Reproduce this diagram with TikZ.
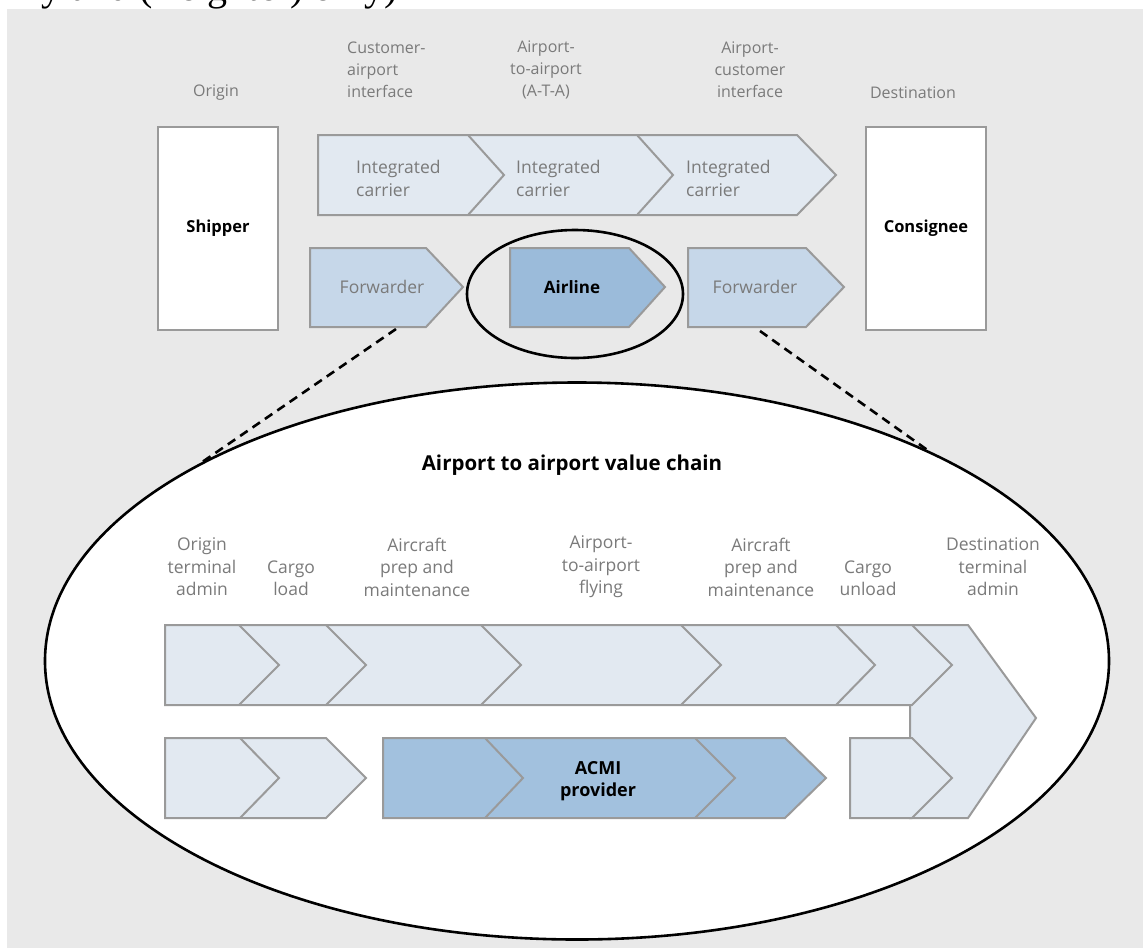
\documentclass[tikz,border=0pt]{standalone}
\usepackage{fontspec}
\setmainfont{Open Sans}
\newfontfamily\serfont{Liberation Serif}
\usetikzlibrary{shapes.geometric}
\definecolor{bg}{HTML}{E9E9E9}
\definecolor{lightchev}{HTML}{E2E9F1}
\definecolor{fwdblue}{HTML}{C6D7E9}
\definecolor{airblue}{HTML}{9BBBDA}
\definecolor{acmiblue}{HTML}{A2C1DE}
\definecolor{edgegrey}{HTML}{9A9A9A}
\definecolor{lblgrey}{HTML}{7A7A7A}
\begin{document}
\begin{tikzpicture}[x=1pt,y=-1pt,
  chev/.style={draw=edgegrey, line width=2pt, line join=miter, fill=lightchev},
  fwdchev/.style={chev, fill=fwdblue},
  airchev/.style={chev, fill=airblue},
  acmichev/.style={chev, fill=acmiblue},
  divline/.style={draw=edgegrey, line width=2pt, line join=miter},
  endbox/.style={draw=edgegrey, line width=2pt, fill=white, minimum width=120pt, minimum height=203pt, inner sep=0pt, font=\fontsize{16.5}{20}\selectfont\bfseries},
  lbl/.style={text=lblgrey, font=\fontsize{16}{22}\selectfont, align=center, inner sep=0pt},
  biglbl/.style={lbl, font=\fontsize{17.5}{22.5}\selectfont},
  lbll/.style={lbl, align=left, anchor=west},
  boldlbl/.style={text=black, font=\fontsize{17}{22}\selectfont\bfseries, align=center, inner sep=0pt},
  dashlink/.style={draw=black, line width=2.6pt, dash pattern=on 9pt off 6pt},
  ringline/.style={draw=black, line width=2.6pt}
]
\useasboundingbox (0,0) rectangle (1143,948);

% cut-off line of text at the top edge (only its lowest part shows)
\begin{scope}
\clip (0,0) rectangle (1143,9);
\node[anchor=base west, inner sep=0pt, font=\serfont\fontsize{40}{40}\selectfont] (cuttext) at (30,0) {ly and (freighter) only)};
\end{scope}

\fill[bg] (7,9) rectangle (1143,948);

% big ellipse (zoom)
\node[draw=black, line width=2.6pt, fill=white, ellipse, minimum width=1064pt, minimum height=557pt, inner sep=0pt] (big) at (577,661) {};

% dashed links
\coordinate (d1) at (396,329);
\coordinate (d2) at (760,331);
\draw[dashlink] (d1) -- (big.152);
\draw[dashlink] (d2) -- (big.31);

% shipper / consignee
\node[endbox] (ship) at (218,228.5) {Shipper};
\node[endbox] (cons) at (926,228.5) {Consignee};

% integrated carrier row
\draw[chev] (318,135) -- (797,135) -- (836,175) -- (797,215) -- (318,215) -- cycle;
\draw[divline] (468,135) -- (504,175) -- (468,215);
\draw[divline] (637,135) -- (673,175) -- (637,215);

% forwarder / airline row
\draw[fwdchev] (310,248) -- (426,248) -- (463,287) -- (426,327) -- (310,327) -- cycle;
\draw[airchev] (510,248) -- (629,248) -- (665,287) -- (629,327) -- (510,327) -- cycle;
\draw[fwdchev] (688,248) -- (806,248) -- (844,287) -- (806,327) -- (688,327) -- cycle;

% small ring round the airline
\node[ringline, ellipse, minimum width=216pt, minimum height=128pt, inner sep=0pt] (ring) at (575,294) {};

% top labels
\node[lbl] (origin) at (216,93) {Origin};
\node[lbll] (cai) at (347,70) {Customer-\\airport\\interface};
\node[lbl] (ata) at (546,70) {Airport-\\to-airport\\(A-T-A)};
\node[lbl] (aci) at (750,70) {Airport-\\customer\\interface};
\node[lbl] (dest) at (913,93) {Destination};

\node[lbll, font=\fontsize{17.5}{23}\selectfont] (ic1) at (356,178) {Integrated\\carrier};
\node[lbll, font=\fontsize{17.5}{23}\selectfont] (ic2) at (516,178) {Integrated\\carrier};
\node[lbll, font=\fontsize{17.5}{23}\selectfont] (ic3) at (686,178) {Integrated\\carrier};

\node[biglbl] (fw1) at (382,287) {Forwarder};
\node[boldlbl] (air) at (572,287) {Airline};
\node[biglbl] (fw2) at (755,287) {Forwarder};

% value chain title
\node[text=black, inner sep=0pt, font=\fontsize{20.5}{24}\selectfont\bfseries] (title) at (572,465) {Airport to airport value chain};

% value chain labels
\node[biglbl] (l1) at (202,567) {Origin\\terminal\\admin};
\node[biglbl] (l2) at (291,578) {Cargo\\load};
\node[biglbl] (l3) at (417,567) {Aircraft\\prep and\\maintenance};
\node[biglbl] (l4) at (601,567) {Airport-\\to-airport\\flying};
\node[biglbl] (l5) at (761,567) {Aircraft\\prep and\\maintenance};
\node[biglbl] (l6) at (868,578) {Cargo\\unload};
\node[biglbl] (l7) at (993,567) {Destination\\terminal\\admin};

% big final chevron spanning both rows
\draw[chev] (910,625) -- (968,625) -- (1036,718) -- (968,818) -- (910,818) -- cycle;

% first row of the value chain
\draw[chev] (165,625) -- (912,625) -- (952,665) -- (912,705) -- (165,705) -- cycle;
\draw[divline] (239,625) -- (279,665) -- (239,705);
\draw[divline] (326,625) -- (366,665) -- (326,705);
\draw[divline] (481,625) -- (521,665) -- (481,705);
\draw[divline] (681,625) -- (721,665) -- (681,705);
\draw[divline] (836,625) -- (875,665) -- (836,705);

% second row of the value chain
\draw[chev] (165,738) -- (326,738) -- (366,778) -- (326,818) -- (165,818) -- cycle;
\draw[divline] (240,738) -- (279,778) -- (240,818);
\draw[acmichev] (383,738) -- (785,738) -- (826,778) -- (785,818) -- (383,818) -- cycle;
\draw[divline] (485,738) -- (523,778) -- (485,818);
\draw[divline] (695,738) -- (735,778) -- (695,818);
\draw[chev] (850,738) -- (912,738) -- (952,778) -- (912,818) -- (850,818) -- cycle;

\node[boldlbl, font=\fontsize{18}{22}\selectfont\bfseries] (acmi) at (598,781) {ACMI\\provider};
\end{tikzpicture}
\end{document}
